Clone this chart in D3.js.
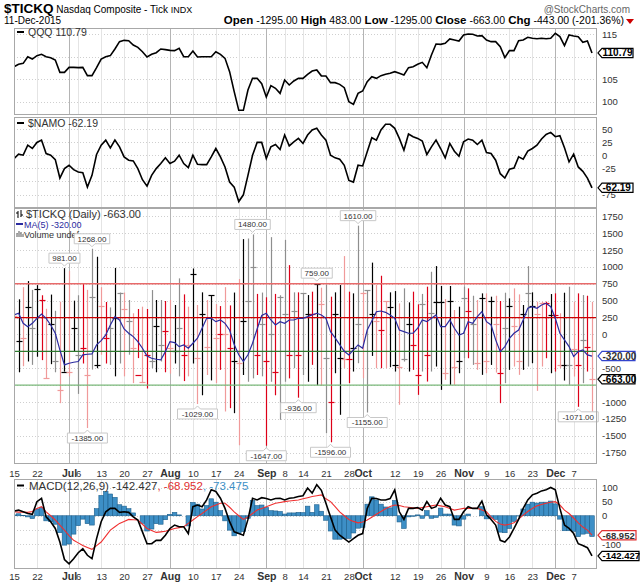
<!DOCTYPE html>
<html><head><meta charset="utf-8">
<script src="https://cdn.jsdelivr.net/npm/d3@7/dist/d3.min.js"></script>
<style>body{margin:0;background:#fff}svg{display:block}</style>
</head><body><svg id="c" width="640" height="584"></svg>
<script>
// ---------------- DATA ----------------
const startDate = "2015-06-15", endDate = "2015-12-11";
const holidays = ["2015-07-03","2015-09-07","2015-11-26"];
const xTickLabels = [["2015-06-15","15"],["2015-06-22","22"],["2015-07-01","Jul"],["2015-07-06","6"],["2015-07-13","13"],["2015-07-20","20"],["2015-07-27","27"],["2015-08-03","Aug"],["2015-08-10","10"],["2015-08-17","17"],["2015-08-24","24"],["2015-09-01","Sep"],["2015-09-08","8"],["2015-09-14","14"],["2015-09-21","21"],["2015-09-28","28"],["2015-10-01","Oct"],["2015-10-12","12"],["2015-10-19","19"],["2015-10-26","26"],["2015-11-02","Nov"],["2015-11-09","9"],["2015-11-16","16"],["2015-11-23","23"],["2015-12-01","Dec"],["2015-12-07","7"]];
const monthLabels = ["Jul","Aug","Sep","Oct","Nov","Dec"];

const qqq = [107.74,108.26,108.48,109.96,109.44,110.19,110.48,109.96,109.74,109.22,
106.48,106.48,107.59,107.59,107.52,107.59,105.74,105.74,107.52,109.44,
109.96,110.19,111.67,113.30,113.59,113.52,112.56,112.04,111.07,109.89,
110.48,110.85,111.67,111.52,111.37,111.30,111.81,109.96,109.96,111.22,
109.89,109.96,109.96,109.96,111.07,110.48,109.59,106.63,102.19,98.04,
98.04,102.56,105.15,105.15,103.96,101.00,103.52,102.93,101.81,104.78,
103.67,104.56,105.15,105.15,106.04,106.78,107.00,105.70,105.67,104.19,
104.19,103.81,103.07,99.96,99.37,101.81,102.33,104.41,105.52,105.15,
105.74,106.04,106.26,106.63,106.26,105.89,107.52,107.74,108.26,108.70,
107.52,110.33,112.78,112.70,112.93,113.89,113.67,113.44,114.78,115.00,
114.93,114.56,114.63,113.67,113.30,113.30,112.19,109.74,111.30,111.30,
113.52,113.67,114.26,114.04,113.96,114.04,113.96,114.04,115.15,114.41,
112.41,114.78,114.56,114.41,113.15,113.44,110.79];

const namo = [-6.4,1.9,0,19.2,12.8,24.4,28.8,3.2,0,-8.3,
-43.6,-25.6,-19.2,-27.6,-32.1,-33.3,-60.9,-38.5,1.3,19.2,
28.8,14.1,28.8,16.0,-3.2,-9.6,-10.9,-25.6,-46.8,-59.0,
-38.5,-25.6,-16.0,-5.1,-16.0,-11.5,0,-16.0,-23.7,0,
-17.3,-17.9,-17.9,-3.2,12.8,-3.2,-22.4,-51.3,-60.9,-88.5,
-75.6,-38.5,0,24.4,24.4,-6.4,16.0,20.5,10.9,38.5,
17.9,25.6,32.1,22.4,38.5,48.1,51.3,38.5,28.8,0,
-5.1,-7.7,-19.2,-48.1,-51.3,-19.2,-20.5,6.4,33.3,28.8,
48.1,59.0,59.0,51.3,32.1,9.6,40.4,35.3,32.1,26.9,
1.3,16.0,28.8,12.8,-5.1,22.4,7.7,-1.9,25.6,30.8,
28.8,20.5,28.8,5.1,3.2,-9.6,-35.3,-43.6,-26.9,-24.4,
-3.2,-7.7,7.7,12.8,19.2,30.8,39.7,43.6,35.3,37.2,
14.1,-12.8,1.9,-22.4,-30.8,-43.6,-62.19];

const tickHigh = [400,520,700,790,660,730,580,380,590,350,
485,981,940,500,580,750,660,1268,1150,700,
480,400,985,620,620,510,313,377,411,377,
657,510,510,495,510,436,830,593,411,976,
436,623,510,583,450,420,700,430,620,820,
1411,1420,1480,600,620,550,1440,600,580,1400,
1026,623,623,608,583,633,759,692,741,559,
623,731,1160,633,608,1610,623,657,1063,731,
869,485,623,642,460,682,475,633,446,600,
707,928,1012,717,524,717,362,411,707,682,
573,510,608,608,559,573,495,618,534,682,
593,436,1012,623,485,485,485,598,608,313,
618,707,485,608,583,573,483];
const tickLow = [-150,-560,-470,-400,-450,-330,-380,-650,-440,-560,
-1017,-550,-620,-250,-880,-430,-1385,-520,-500,-300,
-430,-450,-620,-430,-620,-300,-720,-350,-720,-800,
-500,-560,-400,-560,-580,-430,-620,-690,-620,-430,
-1029,-900,-600,-680,-720,-524,-1140,-1091,-1165,-1640,
-600,-700,-650,-600,-620,-1647,-700,-900,-1263,-700,
-650,-500,-936,-600,-700,-450,-750,-761,-1460,-1596,
-574,-1189,-500,-721,-549,-426,-648,-1155,-318,-500,
-500,-500,-485,-549,-1041,-401,-549,-524,-894,-549,
-697,-549,-475,-820,-672,-746,-746,-574,-352,-352,
-451,-524,-598,-574,-451,-564,-1017,-721,-524,-475,
-598,-524,-475,-426,-835,-475,-352,-574,-549,-500,
-682,-746,-623,-1071,-721,-549,-1295];
const tickClose = [280,-100,-50,400,100,680,510,-650,150,-400,
-820,-550,-560,100,-300,-200,-600,550,-450,420,
-50,100,250,620,380,200,-200,-600,-700,-300,
-400,120,-150,50,-200,-250,100,-300,-150,900,
-350,300,-180,580,-50,0,0,-200,-400,-420,
200,500,1000,-300,150,-400,0,-550,550,300,
-300,347,-300,608,300,300,740,450,-350,-1000,
300,-350,-367,-367,-200,155,620,657,300,200,
66,500,400,-450,-485,-367,150,-150,-600,446,
-300,313,480,485,-564,500,-485,-400,534,347,
150,-426,544,-400,500,150,-574,100,420,130,
-400,300,620,420,300,470,470,290,284,-451,
-451,-451,-214,-451,-82,-190,-663];
const tickColor = "pkpkgkrpkg"+"pkpkgrpgkp"+"rgkgpgprpr"+"gkgrpkgrpk"+"pkpkprprkp"+"kggrgrgrgg"+"rgrgkrkpgr"+"kkprkgpgkp"+"rpkkpgkrrg"+"rgkkpkpkgr"+"gpkpkprgkp"+"pkgkpprkrp"+"kgprgrp";
const ma5 = [288,313,165,115,165,239,303,239,140,18,
-229,-450,-426,-411,-401,-303,-293,-288,-155,-91,
-7,140,263,214,81,18,-32,-106,-204,-318,
-352,-367,-377,-254,-106,-121,-180,-155,-204,-130,
-56,92,239,239,189,214,165,66,-150,-300,
-401,-300,-130,80,280,313,214,140,189,165,
214,214,239,239,263,290,313,288,239,41,
-50,-150,-250,-303,-229,-155,-204,66,200,337,
347,327,288,239,66,41,18,18,92,214,
189,239,288,115,115,214,92,-10,18,189,
165,263,337,189,140,-81,-254,-180,-56,18,
66,214,387,411,387,436,461,411,239,18,
-81,-180,-327,-254,-229,-303,-320];
const highCallouts = [11,17,52,66,75];
const lowCallouts = [16,40,55,62,69,77,123];

const macd = [17,20,14,8,5,50,62,-4,-21,-45,
-93,-155,-170,-152,-131,-117,-140,-152,-81,-21,
14,26,26,12,14,12,-4,-15,-57,-99,
-99,-87,-87,-69,-45,-33,-39,-39,-63,32,
38,32,56,92,86,62,26,-21,-57,-63,
-69,-13,62,56,64,61,56,61,62,56,
62,64,68,71,98,80,110,90,44,-4,
-51,-69,-81,-93,-81,-69,-63,26,62,61,
56,56,61,92,14,-13,26,26,29,20,
50,26,32,62,38,32,-13,-13,14,32,
26,26,52,3,-13,-33,-87,-93,-75,-45,
-13,26,56,74,80,88,92,100,92,26,
-33,-45,-63,-99,-105,-113,-142.427];
const signal = [14,13,13,12,15,26,32,14,0,-15,
-33,-51,-70,-87,-96,-105,-112,-119,-106,-93,
-72,-51,-39,-27,-20,-13,-14,-15,-30,-45,
-52,-59,-57,-55,-50,-45,-42,-39,-27,-15,
-3,8,20,32,38,44,44,30,14,0,
-13,-4,8,20,26,32,38,44,47,50,
52,54,56,60,64,68,71,74,60,50,
32,14,0,-13,-20,-25,-22,-15,-5,5,
15,25,33,38,36,32,30,28,26,29,
32,35,38,35,32,26,20,23,26,26,
26,26,20,14,-5,-20,-29,-33,-30,-25,
-12,2,15,26,35,40,44,48,50,38,
20,8,-8,-25,-40,-51,-68.952];
const hist = [3,7,1,-4,-10,24,30,-18,-21,-30,
-60,-104,-100,-65,-35,-12,-28,-33,25,72,
86,77,65,39,34,25,10,0,-27,-54,
-47,-28,-30,-14,5,12,3,0,-36,47,
41,24,36,60,48,18,-18,-51,-71,-63,
-56,-9,54,36,38,29,18,17,15,6,
10,10,12,11,34,12,39,16,-16,-54,
-83,-83,-81,-80,-61,-44,-41,41,67,56,
41,31,28,54,-22,-45,-4,-2,3,-9,
18,-9,-6,27,6,6,-33,-36,-12,6,
0,0,32,-11,-8,-13,-58,-60,-45,-20,
-1,24,41,48,45,48,48,52,42,-12,
-53,-53,-55,-74,-65,-62,-73.475];

const qqqTicks=[100,105,110,115], namoTicks=[50,25,0,-25,-50,-75];
const tickTicks=d3.range(-1750,1751,250), macdTicks=[100,50,0,-50,-100];

// ---------------- BUILD ----------------
const dates=[];
{let t=Date.UTC(2015,5,15);const end=Date.UTC(2015,11,11);
 while(t<=end){const d=new Date(t);const s=d.toISOString().slice(0,10);const wd=d.getUTCDay();
  if(wd!==0&&wd!==6&&!holidays.includes(s))dates.push(s);t+=864e5;}}

const svg=d3.select("#c");
const SANS='"Liberation Sans",Arial,sans-serif';
const L=14,R=597;
const x=d3.scalePoint().domain(dates).range([14,592]);
const panels={
 p1:{top:28,bot:114,y:d3.scaleLinear().domain([100,115]).range([101.5,34])},
 p2:{top:117,bot:207,y:d3.scaleLinear().domain([-75,50]).range([194.5,129])},
 p3:{top:208,bot:463,y:d3.scaleLinear().domain([-1750,1750]).range([452.7,216.2])},
 p4:{top:479,bot:568,y:d3.scaleLinear().domain([-100,100]).range([544,487.5])}
};
const labelMap=new Map(xTickLabels);
const fmt2=v=>v.toFixed(2);

function frame(p,ticks,id){
  const g=svg.append("g");
  g.selectAll(null).data(ticks).join("line")
   .attr("x1",L).attr("x2",R).attr("y1",d=>Math.round(p.y(d))+.5).attr("y2",d=>Math.round(p.y(d))+.5)
   .attr("stroke","#cfcfcf").attr("stroke-dasharray","1,2");
  g.selectAll(null).data(xTickLabels).join("line")
   .attr("x1",d=>Math.round(x(d[0]))+.5).attr("x2",d=>Math.round(x(d[0]))+.5)
   .attr("y1",p.top).attr("y2",p.bot)
   .attr("stroke",d=>monthLabels.includes(d[1])?"#b4b4b4":"#e4e4e4");
  svg.append("clipPath").attr("id",id).append("rect").attr("x",L).attr("y",p.top).attr("width",R-L).attr("height",p.bot-p.top);
  return g;
}
function border(p){
  svg.append("rect").attr("x",L+.5).attr("y",p.top+.5).attr("width",R-L-1).attr("height",p.bot-p.top)
   .attr("fill","none").attr("stroke","#a8a8a8");
}
function yAxis(p,ticks,tagYs){
  const shown=ticks.filter(t=>tagYs.every(ty=>Math.abs(p.y(t)-ty)>=6.5));
  const ax=d3.axisRight(p.y).tickValues(shown).tickSize(0).tickPadding(5).tickFormat(d=>String(d));
  const g=svg.append("g").attr("transform",`translate(${R},0)`).call(ax);
  g.select(".domain").remove();
  g.selectAll("text").attr("font-family",SANS).attr("font-size",9.5).attr("fill","#333");
}
function xAxis(yPos){
  const ax=d3.axisBottom(x).tickValues(xTickLabels.map(d=>d[0])).tickSize(0).tickPadding(0).tickFormat(d=>labelMap.get(d));
  const g=svg.append("g").attr("transform",`translate(0,${yPos})`).call(ax);
  g.select(".domain").remove();
  g.selectAll("text").attr("dy",0).attr("font-family",SANS).attr("fill","#333")
   .attr("font-size",d=>monthLabels.includes(labelMap.get(d))?10.5:9.5)
   .attr("font-weight",d=>monthLabels.includes(labelMap.get(d))?"bold":"normal");
}
function tag(yv,txt,stroke,color,w,fs){
  w=w||35;fs=fs||10;
  const g=svg.append("g");
  g.append("path").attr("d",`M${R+1},${yv} L${R+5},${yv-4.6} H${R+1+w} V${yv+4.6} H${R+5} Z`)
   .attr("fill","#fff").attr("stroke",stroke).attr("stroke-width",1.2);
  g.append("text").attr("x",R+5.5).attr("y",yv+3.5).text(txt).attr("font-family",SANS)
   .attr("font-size",fs).attr("font-weight","bold").attr("fill",color);
}
function legendLine(x0,y0,color){
  svg.append("line").attr("x1",x0).attr("x2",x0+7).attr("y1",y0).attr("y2",y0).attr("stroke",color).attr("stroke-width",2);
}
function legendText(x0,y0,fs,color,txt){
  return svg.append("text").attr("x",x0).attr("y",y0).attr("font-family",SANS).attr("font-size",fs).attr("fill",color).text(txt);
}

// ----- header -----
svg.append("text").attr("x",4).attr("y",13).attr("font-family",SANS).attr("font-size",11).attr("fill","#000")
 .call(t=>{t.append("tspan").text("$TICKQ").attr("font-weight","bold").attr("font-size",13.5);
           t.append("tspan").text(" Nasdaq Composite - Tick ").attr("font-size",10);
           t.append("tspan").text("INDX").attr("font-size",9);});
svg.append("text").attr("x",4).attr("y",24).attr("font-family",SANS).attr("font-size",10).text("11-Dec-2015");
svg.append("text").attr("x",630).attr("y",13).attr("text-anchor","end").attr("font-family",SANS).attr("font-size",10).attr("fill","#666").text("@StockCharts.com");
const hdr=svg.append("text").attr("x",624).attr("y",24).attr("text-anchor","end").attr("font-family",SANS).attr("font-size",10.5);
[["Open","-1295.00"],["High","483.00"],["Low","-1295.00"],["Close","-663.00"],["Chg","-443.00 (-201.36%)"]].forEach((p,i)=>{
  hdr.append("tspan").text((i?" ":"")+p[0]).attr("font-weight","bold").attr("font-size",11.5);
  hdr.append("tspan").text(" "+p[1]);
});
svg.append("path").attr("d","M626,19 L634,19 L630,24 Z").attr("fill","#cc0000");

// ----- panel 1: QQQ -----
{const p=panels.p1;frame(p,qqqTicks,"c1");
 svg.append("path").datum(qqq).attr("clip-path","url(#c1)")
  .attr("d",d3.line().x((d,i)=>x(dates[i])).y(d=>p.y(d))).attr("fill","none").attr("stroke","#000").attr("stroke-width",1.6);
 border(p);
 const ty=p.y(qqq[qqq.length-1]);
 yAxis(p,qqqTicks,[ty]);
 legendLine(17,32,"#000");
 legendText(28,36,10.5,"#333","QQQ 110.79");
 tag(ty,"110.79","#000","#000");}

// ----- panel 2: NAMO -----
{const p=panels.p2;frame(p,namoTicks,"c2");
 svg.append("path").datum(namo).attr("clip-path","url(#c2)")
  .attr("d",d3.line().x((d,i)=>x(dates[i])).y(d=>p.y(d))).attr("fill","none").attr("stroke","#000").attr("stroke-width",1.6);
 border(p);
 const ty=p.y(namo[namo.length-1]);
 yAxis(p,namoTicks,[ty]);
 legendLine(17,123,"#000");
 legendText(28,127,10.5,"#333","$NAMO -62.19");
 tag(ty,"-62.19","#000","#000");}

// ----- panel 3: TICK -----
{const p=panels.p3;frame(p,tickTicks,"c3");
 const colors={k:"#000000",g:"#8e8e8e",r:"#dd0018",p:"#f09a9a"};
 const g=svg.append("g").attr("clip-path","url(#c3)");
 g.selectAll(null).data(dates).join("line")
  .attr("x1",d=>Math.round(x(d))+.5).attr("x2",d=>Math.round(x(d))+.5)
  .attr("y1",(d,i)=>p.y(tickHigh[i])).attr("y2",(d,i)=>p.y(tickLow[i]))
  .attr("stroke",(d,i)=>colors[tickColor[i]]).attr("stroke-width",1.2);
 g.selectAll(null).data(dates).join("line")
  .attr("x1",d=>Math.round(x(d))-2.5).attr("x2",d=>Math.round(x(d))+3.5)
  .attr("y1",(d,i)=>Math.round(p.y(tickClose[i]))+.5).attr("y2",(d,i)=>Math.round(p.y(tickClose[i]))+.5)
  .attr("stroke",(d,i)=>colors[tickColor[i]]).attr("stroke-width",1.2);
 const refs=[[750,"#e86a6a"],[250,"#cc0000"],[-250,"#2f7a2f"],[-750,"#7ab87a"]];
 g.selectAll(null).data(refs).join("line").attr("x1",L).attr("x2",R)
  .attr("y1",d=>p.y(d[0])).attr("y2",d=>p.y(d[0])).attr("stroke",d=>d[1]).attr("stroke-width",1.3);
 g.append("path").datum(ma5).attr("d",d3.line().x((d,i)=>x(dates[i])).y(d=>p.y(d)))
  .attr("fill","none").attr("stroke","#2b2ba0").attr("stroke-width",1.2);
 svg.append("path").attr("d","M18,211 V218 M16,213 H18 M21,210 V217 M21,215 H23").attr("stroke","#000").attr("fill","none");
 legendText(26,217.5,11,"#333","$TICKQ (Daily) -663.00");
 legendLine(16,224,"#2b2ba0");
 legendText(24,227.5,9,"#2b2ba0","MA(5) -320.00");
 svg.append("path").attr("d","M17,237 V233 M19,237 V231 M21,237 V232 M23,237 V234").attr("stroke","#555").attr("fill","none");
 legendText(24,237.5,9,"#333","Volume undef");
 const co=svg.append("g").attr("font-family",SANS).attr("font-size",8);
 function callout(i,isHigh){
  const v=isHigh?tickHigh[i]:tickLow[i];const cx=x(dates[i]);const py=p.y(v);
  const txt=fmt2(v);const w=txt.length*4.5+4;const h=10;
  const by=isHigh?py-5-h:py+5;
  co.append("path").attr("d",isHigh?
     `M${cx-w/2},${by} H${cx+w/2} V${by+h} H${cx+3} L${cx},${by+h+3} L${cx-3},${by+h} H${cx-w/2} Z`:
     `M${cx-w/2},${by} H${cx-3} L${cx},${by-3} L${cx+3},${by} H${cx+w/2} V${by+h} H${cx-w/2} Z`)
   .attr("fill","#fff").attr("stroke","#c8c8c8");
  co.append("text").attr("x",cx).attr("y",by+8).attr("text-anchor","middle").attr("fill","#333").text(txt);
 }
 highCallouts.forEach(i=>callout(i,true));lowCallouts.forEach(i=>callout(i,false));
 border(p);
 const t1=p.y(ma5[ma5.length-1]), t2=p.y(tickClose[tickClose.length-1]);
 yAxis(p,tickTicks,[t1,t2]);
 tag(t1,"-320.00","#3344cc","#333",37);
 tag(t2,"-663.00","#000","#000",37);
 xAxis(477);}

// ----- panel 4: MACD -----
{const p=panels.p4;frame(p,macdTicks,"c4");
 const g=svg.append("g").attr("clip-path","url(#c4)");
 const step=x.step();
 g.selectAll(null).data(dates).join("rect")
  .attr("x",d=>x(d)-step/2).attr("width",step)
  .attr("y",(d,i)=>Math.min(p.y(hist[i]),p.y(0))).attr("height",(d,i)=>Math.abs(p.y(hist[i])-p.y(0)))
  .attr("fill","#3d8fc6").attr("stroke","#1d5f8c").attr("stroke-width",0.6);
 g.append("path").datum(signal).attr("d",d3.line().x((d,i)=>x(dates[i])).y(d=>p.y(d)))
  .attr("fill","none").attr("stroke","#f03030").attr("stroke-width",1.1);
 g.append("path").datum(macd).attr("d",d3.line().x((d,i)=>x(dates[i])).y(d=>p.y(d)))
  .attr("fill","none").attr("stroke","#000").attr("stroke-width",1.6);
 border(p);
 const t1=p.y(signal[signal.length-1]), t2=p.y(macd[macd.length-1]);
 yAxis(p,macdTicks,[t1,t2]);
 legendLine(17,485.5,"#000");
 svg.append("text").attr("x",29).attr("y",489.5).attr("font-family",SANS).attr("font-size",11.5)
  .call(t=>{t.append("tspan").attr("fill","#333").text("MACD(12,26,9) -142.427");
            t.append("tspan").attr("fill","#e03030").text(", -68.952");
            t.append("tspan").attr("fill","#3d8fc6").text(", -73.475");});
 tag(t1,"-68.952","#e03030","#333",38,9.5);
 tag(t2,"-142.427","#000","#000",41,9.5);
 xAxis(580);}
</script></body></html>
